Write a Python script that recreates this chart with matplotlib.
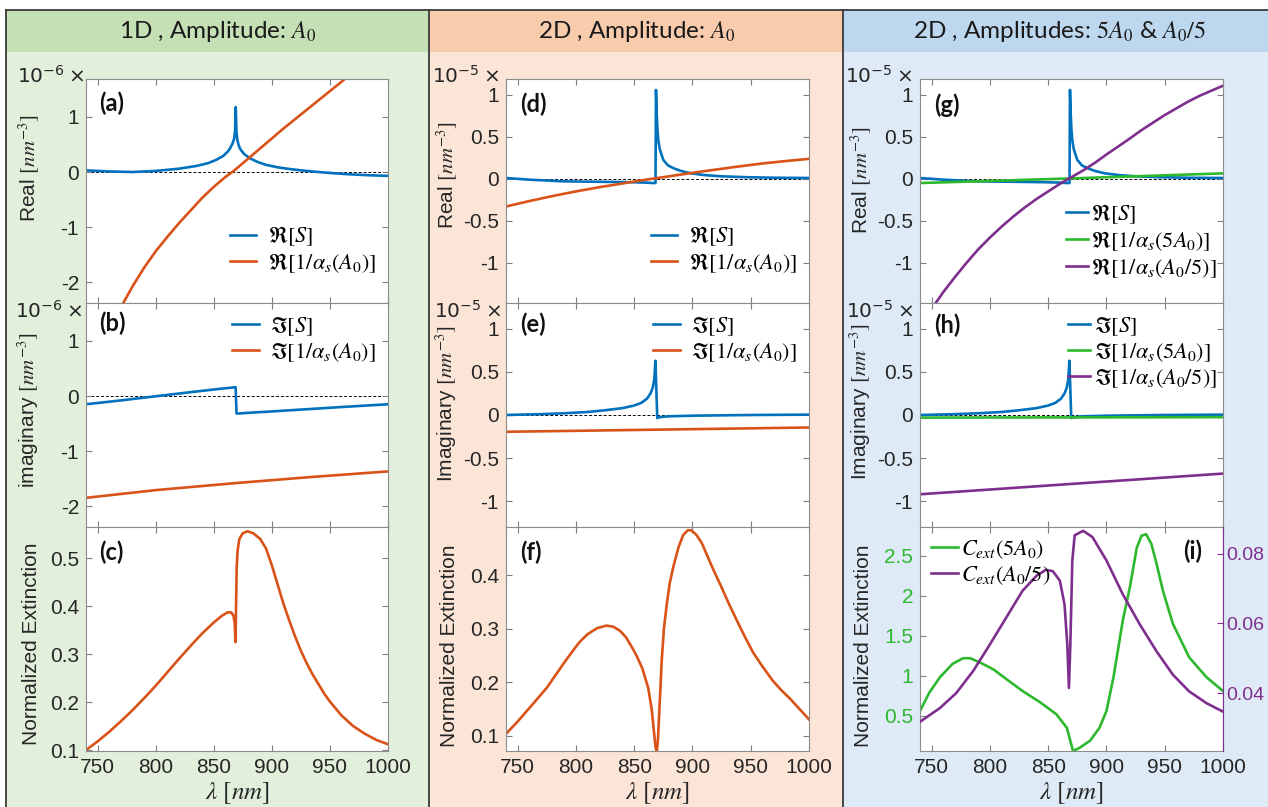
import matplotlib
matplotlib.use('Agg')
import matplotlib.pyplot as plt
from matplotlib.patches import Rectangle
from matplotlib.lines import Line2D
from matplotlib.ticker import FuncFormatter

plt.rcParams['font.family'] = ['Liberation Sans', 'DejaVu Sans']
plt.rcParams['mathtext.fontset'] = 'stix'

# ---- data ----
# (a) 1D real parts, x1e-6 nm^-3
a_lam_S = [740, 760, 780, 800, 820, 835, 845, 852, 858, 862, 864, 866, 867.5, 868.4, 868.9,
           869.5, 870.3, 871.5, 873, 876, 881, 888, 895, 905, 915, 925, 940, 955, 970, 985, 1000]
a_re_S = [0.03, 0.01, 0.0, 0.02, 0.06, 0.11, 0.16, 0.22, 0.29, 0.37, 0.43, 0.51, 0.60, 0.75, 1.18,
          0.75, 0.58, 0.48, 0.41, 0.33, 0.25, 0.18, 0.13, 0.085, 0.055, 0.03, 0.0, -0.025, -0.045, -0.06, -0.07]
a_lam_alpha = [770, 780, 790, 800, 810, 820, 830, 840, 850, 860, 866, 870, 880, 890, 900,
               910, 920, 930, 940, 950, 960, 965]
a_re_alpha = [-2.46, -2.08, -1.74, -1.44, -1.18, -0.93, -0.70, -0.47, -0.27, -0.09, 0.0, 0.07,
              0.25, 0.43, 0.61, 0.79, 0.96, 1.13, 1.30, 1.47, 1.64, 1.73]

# (b) 1D imaginary parts, x1e-6 nm^-3
b_lam_S = [740, 770, 800, 830, 855, 868.8, 869.6, 880, 900, 930, 960, 1000]
b_im_S = [-0.15, -0.08, -0.005, 0.07, 0.13, 0.16, -0.32, -0.305, -0.28, -0.24, -0.2, -0.15]
b_lam_alpha = [740, 800, 870, 935, 1000]
b_im_alpha = [-1.85, -1.71, -1.58, -1.47, -1.37]

# (c) 1D normalized extinction
c_lam = [740, 750, 760, 770, 780, 790, 800, 810, 820, 830, 840, 850, 857, 862, 865, 867, 868,
         868.7, 869.2, 869.7, 870.5, 872, 875, 879, 884, 890, 895, 900, 905, 910, 915, 920, 925,
         930, 935, 940, 945, 950, 960, 970, 980, 990, 1000]
c_ext = [0.100, 0.118, 0.138, 0.160, 0.183, 0.208, 0.234, 0.262, 0.290, 0.317, 0.343, 0.366,
         0.380, 0.387, 0.387, 0.380, 0.365, 0.325, 0.40, 0.48, 0.515, 0.540, 0.552, 0.556, 0.552,
         0.540, 0.520, 0.485, 0.445, 0.405, 0.370, 0.337, 0.307, 0.281, 0.258, 0.238, 0.218,
         0.201, 0.172, 0.150, 0.134, 0.121, 0.112]

# (d)/(g) 2D real part of lattice sum, x1e-5 nm^-3
d_lam_S = [740, 760, 790, 820, 846, 860, 866, 868.3, 868.7, 869.3, 870, 870.7, 872, 875, 879,
           884, 890, 898, 910, 925, 945, 970, 1000]
d_re_S = [0.01, -0.01, -0.03, -0.035, -0.04, -0.045, -0.05, -0.05, 1.06, 0.78, 0.58, 0.46,
          0.35, 0.225, 0.16, 0.125, 0.095, 0.067, 0.045, 0.03, 0.02, 0.013, 0.01]
d_lam_alpha = [740, 760, 780, 800, 820, 840, 860, 880, 900, 920, 940, 960, 980, 1000]
d_re_alpha = [-0.33, -0.265, -0.205, -0.15, -0.10, -0.055, -0.01, 0.03, 0.072, 0.11, 0.148,
              0.183, 0.212, 0.238]

# (e)/(h) 2D imaginary part of lattice sum, x1e-5 nm^-3
e_lam_S = [740, 770, 790, 810, 825, 840, 850, 856, 861, 864, 866, 867.3, 868.2, 869.8, 872,
           880, 900, 950, 1000]
e_im_S = [0.0, 0.01, 0.02, 0.035, 0.055, 0.08, 0.11, 0.14, 0.19, 0.25, 0.32, 0.42, 0.63,
          -0.035, -0.025, -0.015, -0.008, 0.0, 0.004]
e_lam_alpha = [740, 870, 1000]
e_im_alpha = [-0.195, -0.17, -0.145]

# (f) 2D normalized extinction
f_lam = [740, 750, 760, 775, 789, 797, 803, 810, 818, 826, 832, 838, 843, 848, 852, 857, 862,
         865, 867, 868.3, 869.3, 870.3, 871, 872.3, 873.6, 875.5, 878, 880.5, 883.6, 888, 892,
         896, 899, 903.5, 908, 912, 918, 924, 931, 938, 945, 952, 960, 969, 976, 984, 992, 1000]
f_ext = [0.104, 0.127, 0.152, 0.19, 0.234, 0.258, 0.275, 0.29, 0.301, 0.306, 0.304, 0.296,
         0.284, 0.266, 0.25, 0.226, 0.19, 0.15, 0.107, 0.08, 0.069, 0.09, 0.122, 0.18, 0.24,
         0.30, 0.347, 0.385, 0.416, 0.452, 0.475, 0.484, 0.484, 0.475, 0.46, 0.44, 0.41, 0.382,
         0.348, 0.316, 0.285, 0.256, 0.23, 0.203, 0.186, 0.169, 0.15, 0.131]

# (g) 2D real parts for 5A0 and A0/5, x1e-5 nm^-3
g_lam_5 = [740, 800, 870, 935, 1000]
g_re_5 = [-0.05, -0.025, 0.005, 0.035, 0.065]
g_lam_a5 = [750, 760, 770, 780, 790, 800, 810, 820, 830, 840, 850, 860, 870, 880, 890, 900,
            910, 920, 930, 940, 950, 960, 970, 980, 990, 1000]
g_re_a5 = [-1.55, -1.35, -1.17, -1.00, -0.84, -0.70, -0.57, -0.45, -0.34, -0.24, -0.15, -0.06,
           0.02, 0.10, 0.19, 0.29, 0.385, 0.48, 0.58, 0.67, 0.76, 0.84, 0.92, 0.99, 1.05, 1.11]

# (h) 2D imaginary parts for 5A0 and A0/5, x1e-5 nm^-3
h_lam_5 = [740, 870, 1000]
h_im_5 = [-0.03, -0.028, -0.025]
h_lam_a5 = [740, 800, 870, 935, 1000]
h_im_a5 = [-0.92, -0.865, -0.80, -0.74, -0.68]

# (i) normalized extinction, 5A0 (left axis) and A0/5 (right axis)
i_lam_5 = [740, 748, 757, 768, 777, 783, 791, 803, 814, 828, 843, 857, 866, 871.3, 877, 886,
           894, 900, 906, 914, 920, 926, 930, 934, 938.5, 943, 948.5, 957, 971, 986, 1000]
i_ext_5 = [0.56, 0.79, 0.98, 1.15, 1.22, 1.22, 1.17, 1.08, 0.96, 0.81, 0.67, 0.52, 0.35, 0.06,
           0.10, 0.19, 0.35, 0.56, 0.98, 1.69, 2.10, 2.60, 2.75, 2.77, 2.65, 2.40, 2.06, 1.65,
           1.23, 0.98, 0.81]
i_lam_a5 = [740, 757, 771, 785.5, 800, 814, 828, 840, 848, 854, 860, 864, 866.4, 867.8, 869,
            870.7, 872.7, 880, 888, 900, 914, 928.5, 943, 957, 971, 986, 1000]
i_ext_a5 = [0.0318, 0.0357, 0.040, 0.0463, 0.054, 0.0617, 0.0694, 0.0737, 0.0754, 0.075,
            0.0723, 0.0655, 0.054, 0.0415, 0.054, 0.078, 0.0853, 0.0866, 0.0848, 0.0781, 0.0684,
            0.0598, 0.052, 0.0453, 0.0405, 0.0371, 0.0347]

headers = ['1D , Amplitude: $A_0$', '2D , Amplitude: $A_0$', '2D , Amplitudes: $5A_0$ & $A_0/5$']

BLUE = '#0072BD'
ORANGE = '#D95319'
GREEN = '#2db82d'
PURPLE = '#7E2F8E'
TXT = '#262626'
LW = 1.9
TICK_FS = 15
LAB_FS = 15

W, H = 1268, 807
fig = plt.figure(figsize=(W / 100, H / 100), dpi=100)


def fx(x):
    return x / W


def fy(y):
    return 1 - y / H


# column backgrounds and headers
cols = [(6, 429, '#c5e0b4', '#e2efda', 218),
        (429, 843, '#f8cbad', '#fbe5d6', 637),
        (843, 1268, '#bdd7ee', '#deebf7', 1060)]
for (x0, x1, hc, bc, xc), head in zip(cols, headers):
    fig.patches.append(Rectangle((fx(x0), 0), (x1 - x0) / W, fy(52), transform=fig.transFigure,
                                 fc=bc, ec='none', zorder=-2))
    fig.patches.append(Rectangle((fx(x0), fy(52)), (x1 - x0) / W, 42 / H, transform=fig.transFigure,
                                 fc=hc, ec='none', zorder=-2))
    fig.text(fx(xc), fy(31), head, ha='center', va='center', fontsize=17.5,
             family=['Lato', 'DejaVu Sans'], color='#1a1a1a')
for xl in (6, 429, 843):
    fig.add_artist(Line2D([fx(xl), fx(xl)], [0, fy(10)], transform=fig.transFigure,
                          color='#3a3a3a', lw=1.3))
fig.add_artist(Line2D([fx(6), 1], [fy(10), fy(10)], transform=fig.transFigure,
                      color='#3a3a3a', lw=1.3))

lefts = [86, 506, 920]
widths = [302, 303, 303]
tops = [79, 303, 527]
PH = 224

fmt = FuncFormatter(lambda v, p: f'{v:g}')


def make_ax(c, r):
    ax = fig.add_axes([fx(lefts[c]), fy(tops[r] + PH), widths[c] / W, PH / H])
    ax.set_facecolor('white')
    ax.tick_params(direction='in', length=4, width=0.8, top=True, right=True, labelsize=TICK_FS,
                   color='#7f7f7f', labelcolor=TXT, pad=5)
    for s in ax.spines.values():
        s.set_color('#8c8c8c')
        s.set_linewidth(0.8)
    ax.set_xlim(740, 1000)
    ax.set_xticks([750, 800, 850, 900, 950, 1000])
    ax.yaxis.set_major_formatter(fmt)
    if r < 2:
        ax.tick_params(labelbottom=False)
        ax.axhline(0, color='k', lw=0.7, ls=(0, (3, 2)), zorder=1)
    else:
        ax.set_xlabel(r'$\lambda\ [nm]$', fontsize=18, color=TXT)
        ax.xaxis.set_label_coords(0.5, -0.13)
    return ax


def panel_label(ax, s, x=0.045, y=0.89):
    ax.text(x, y, s, transform=ax.transAxes, fontsize=17, fontweight='bold',
            family=['Lato', 'DejaVu Sans'], va='center', color='#111111', zorder=5)


def scale_text(x, y, p):
    fig.text(fx(x), fy(y), r'$10^{%d}\times$' % p, fontsize=14.5, va='center', ha='left',
             color=TXT, math_fontfamily='dejavusans')


leg_kw = dict(frameon=False, fontsize=16, handlelength=1.2, handletextpad=0.5,
              labelspacing=0.15, borderaxespad=0.15)

# ---------- column 1: 1D ----------
ax = make_ax(0, 0)
ax.plot(a_lam_S, a_re_S, color=BLUE, lw=LW, label=r'$\Re[S]$')
ax.plot(a_lam_alpha, a_re_alpha, color=ORANGE, lw=LW, label=r'$\Re[1/\alpha_s(A_0)]$')
ax.set_ylim(-2.38, 1.69)
ax.set_yticks([-2, -1, 0, 1])
ax.set_ylabel(r'Real $[nm^{-3}]$', fontsize=LAB_FS, color=TXT)
ax.yaxis.set_label_coords(-0.15, 0.6)
ax.legend(loc='lower right', bbox_to_anchor=(1.0, 0.07), **leg_kw)
panel_label(ax, '(a)')
scale_text(17, 76, -6)

ax = make_ax(0, 1)
ax.plot(b_lam_S, b_im_S, color=BLUE, lw=LW, label=r'$\Im[S]$')
ax.plot(b_lam_alpha, b_im_alpha, color=ORANGE, lw=LW, label=r'$\Im[1/\alpha_s(A_0)]$')
ax.set_ylim(-2.38, 1.69)
ax.set_yticks([-2, -1, 0, 1])
ax.set_ylabel(r'imaginary $[nm^{-3}]$', fontsize=LAB_FS, color=TXT)
ax.yaxis.set_label_coords(-0.15, 0.52)
ax.legend(loc='upper right', bbox_to_anchor=(1.0, 1.0), **leg_kw)
panel_label(ax, '(b)', y=0.91)
scale_text(15, 311, -6)

ax = make_ax(0, 2)
ax.plot(c_lam, c_ext, color=ORANGE, lw=LW)
ax.set_ylim(0.098, 0.565)
ax.set_yticks([0.1, 0.2, 0.3, 0.4, 0.5])
ax.set_ylabel('Normalized Extinction', fontsize=LAB_FS, color=TXT)
ax.yaxis.set_label_coords(-0.15, 0.48)
panel_label(ax, '(c)', y=0.885)

# ---------- column 2: 2D, A0 ----------
ax = make_ax(1, 0)
ax.plot(d_lam_S, d_re_S, color=BLUE, lw=LW, label=r'$\Re[S]$')
ax.plot(d_lam_alpha, d_re_alpha, color=ORANGE, lw=LW, label=r'$\Re[1/\alpha_s(A_0)]$')
ax.set_ylim(-1.48, 1.19)
ax.set_yticks([-1, -0.5, 0, 0.5, 1])
ax.set_ylabel(r'Real $[nm^{-3}]$', fontsize=LAB_FS, color=TXT)
ax.yaxis.set_label_coords(-0.155, 0.57)
ax.legend(loc='lower right', bbox_to_anchor=(1.0, 0.07), **leg_kw)
panel_label(ax, '(d)', y=0.885)
scale_text(432, 76, -5)

ax = make_ax(1, 1)
ax.plot(e_lam_S, e_im_S, color=BLUE, lw=LW, label=r'$\Im[S]$')
ax.plot(e_lam_alpha, e_im_alpha, color=ORANGE, lw=LW, label=r'$\Im[1/\alpha_s(A_0)]$')
ax.set_ylim(-1.3, 1.3)
ax.set_yticks([-1, -0.5, 0, 0.5, 1])
ax.set_ylabel(r'Imaginary $[nm^{-3}]$', fontsize=LAB_FS, color=TXT)
ax.yaxis.set_label_coords(-0.155, 0.55)
ax.legend(loc='upper right', bbox_to_anchor=(1.0, 1.0), **leg_kw)
panel_label(ax, '(e)', y=0.905)
scale_text(434, 311, -5)

ax = make_ax(1, 2)
ax.plot(f_lam, f_ext, color=ORANGE, lw=LW)
ax.set_ylim(0.072, 0.49)
ax.set_yticks([0.1, 0.2, 0.3, 0.4])
ax.set_ylabel('Normalized Extinction', fontsize=LAB_FS, color=TXT)
ax.yaxis.set_label_coords(-0.155, 0.47)
panel_label(ax, '(f)', y=0.885)

# ---------- column 3: 2D, 5A0 & A0/5 ----------
leg3 = dict(leg_kw, handlelength=1.0, handletextpad=0.15)

ax = make_ax(2, 0)
ax.plot(d_lam_S, d_re_S, color=BLUE, lw=LW, label=r'$\Re[S]$')
ax.plot(g_lam_5, g_re_5, color=GREEN, lw=LW, label=r'$\Re[1/\alpha_s(5A_0)]$')
ax.plot(g_lam_a5, g_re_a5, color=PURPLE, lw=LW, label=r'$\Re[1/\alpha_s(A_0/5)]$')
ax.set_ylim(-1.48, 1.19)
ax.set_yticks([-1, -0.5, 0, 0.5, 1])
ax.set_ylabel(r'Real $[nm^{-3}]$', fontsize=LAB_FS, color=TXT)
ax.yaxis.set_label_coords(-0.155, 0.55)
ax.legend(loc='lower right', bbox_to_anchor=(1.02, 0.05), **leg3)
panel_label(ax, '(g)', y=0.885)
scale_text(845, 76, -5)

ax = make_ax(2, 1)
ax.plot(e_lam_S, e_im_S, color=BLUE, lw=LW, label=r'$\Im[S]$')
ax.plot(h_lam_5, h_im_5, color=GREEN, lw=LW, label=r'$\Im[1/\alpha_s(5A_0)]$')
ax.plot(h_lam_a5, h_im_a5, color=PURPLE, lw=LW, label=r'$\Im[1/\alpha_s(A_0/5)]$')
ax.set_ylim(-1.3, 1.3)
ax.set_yticks([-1, -0.5, 0, 0.5, 1])
ax.set_ylabel(r'Imaginary $[nm^{-3}]$', fontsize=LAB_FS, color=TXT)
ax.yaxis.set_label_coords(-0.155, 0.56)
ax.legend(loc='upper right', bbox_to_anchor=(1.02, 1.0), **leg3)
panel_label(ax, '(h)', y=0.9)
scale_text(846, 311, -5)

ax = make_ax(2, 2)
ax.tick_params(axis='y', right=False, labelcolor=GREEN)
l1, = ax.plot(i_lam_5, i_ext_5, color=GREEN, lw=LW, label=r'$C_{ext}(5A_0)$')
ax.set_ylim(0.06, 2.86)
ax.set_yticks([0.5, 1, 1.5, 2, 2.5])
ax.set_ylabel('Normalized Extinction', fontsize=LAB_FS, color=TXT)
ax.yaxis.set_label_coords(-0.155, 0.47)
ax2 = ax.twinx()
l2, = ax2.plot(i_lam_a5, i_ext_a5, color=PURPLE, lw=LW, label=r'$C_{ext}(A_0/5)$')
ax2.set_ylim(0.0234, 0.0877)
ax2.set_yticks([0.04, 0.06, 0.08])
ax2.yaxis.set_major_formatter(fmt)
ax2.tick_params(axis='y', direction='in', length=4, width=0.8, labelsize=14,
                color=PURPLE, labelcolor=PURPLE, pad=2)
for side in ('left', 'top', 'bottom'):
    ax2.spines[side].set_visible(False)
ax2.spines['right'].set_color(PURPLE)
ax2.spines['right'].set_linewidth(0.8)
ax2.legend(handles=[l1, l2], loc='upper left', bbox_to_anchor=(0.0, 1.0),
           **dict(leg3, handlelength=1.2, borderaxespad=0.1))
panel_label(ax2, '(i)', x=0.87, y=0.89)

fig.savefig('out.png', dpi=100)
